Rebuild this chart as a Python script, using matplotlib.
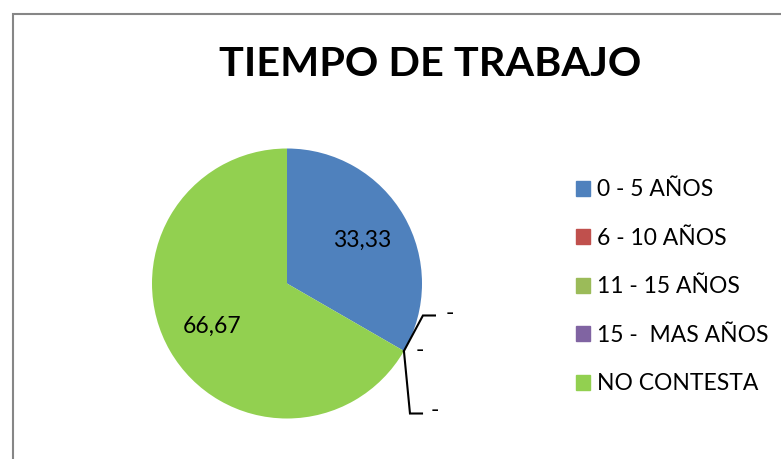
import matplotlib
matplotlib.use("Agg")
import matplotlib.pyplot as plt
import matplotlib.patches as mpatches
import numpy as np

categories = ["0 - 5 AÑOS", "6 - 10 AÑOS", "11 - 15 AÑOS", "15 -  MAS AÑOS", "NO CONTESTA"]
values = [33.33, 0, 0, 0, 66.67]
value_labels = ["33,33", "-", "-", "-", "66,67"]
colors = ["#4F81BD", "#C0504D", "#9BBB59", "#8064A2", "#92D050"]
title = "TIEMPO DE TRABAJO"

plt.rcParams['font.family'] = ['Lato', 'DejaVu Sans']

W, H = 781, 459
fig = plt.figure(figsize=(W / 100, H / 100), dpi=100)

# border
fig.patches.append(mpatches.Rectangle((13 / W, -0.1), 1.2, (H - 14) / H + 0.1,
                                      transform=fig.transFigure, fill=False,
                                      edgecolor="#868686", lw=1.5))

cx, cy, r = 287, 283.5, 135
ax = fig.add_axes([(cx - r) / W, (H - cy - r) / H, 2 * r / W, 2 * r / H])
wedges, _ = ax.pie(values, colors=colors, startangle=90, counterclock=False,
                   radius=1, wedgeprops=dict(linewidth=0))
ax.set_xlim(-1, 1)
ax.set_ylim(-1, 1)
ax.set_aspect("equal")
ax.axis("off")

# labels
total = sum(values)
angle = 90.0
dash_offsets = [((1.007, -0.237), (1.096, -0.237), (1.207, -0.222)),
                (None, None, (0.985, -0.496)),
                ((0.911, -0.963), (1.0, -0.963), (1.096, -0.941))]
di = 0
for v, lab in zip(values, value_labels):
    span = 360.0 * v / total
    mid = np.deg2rad(angle - span / 2)
    if v > 0:
        ax.text(0.64 * np.cos(mid), 0.64 * np.sin(mid), lab, ha="center", va="center",
                fontsize=16.5, color="black")
    else:
        px, py = np.cos(mid), np.sin(mid)
        p1, p2, t = dash_offsets[di]
        if p1 is not None:
            ax.plot([px, p1[0], p2[0]], [py, p1[1], p2[1]], color="black", lw=1.5,
                    clip_on=False, solid_joinstyle="miter")
        ax.text(t[0], t[1], lab, ha="center", va="center", fontsize=16.5, clip_on=False)
        di += 1
    angle -= span

fig.text(430 / W, 1 - 65 / H, title, ha="center", va="center", fontsize=29.8,
         fontweight="bold")

handles = [mpatches.Patch(color=c) for c in colors]
leg = fig.legend(handles, categories, loc="upper left",
                 bbox_to_anchor=(567 / W, 1 - 170 / H), frameon=False,
                 fontsize=16.5, handlelength=0.62, handleheight=0.62,
                 handletextpad=0.3, labelspacing=1.2, borderaxespad=0)

fig.savefig("out.png", dpi=100)
